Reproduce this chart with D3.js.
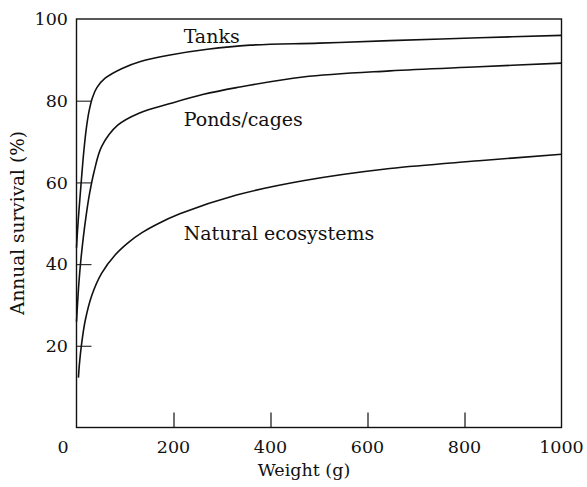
<!DOCTYPE html>
<html>
<head>
<meta charset="utf-8">
<script src="https://cdn.jsdelivr.net/npm/d3@7"></script>
<style>
  body { margin: 0; background: #fff; }
  text { font-family: "DejaVu Serif", serif; fill: #111; }
</style>
</head>
<body>
<div id="chart"></div>
<script>
// DATA
const tanksWeight = [0, 2, 5, 8, 11, 15, 20, 26, 33, 42, 59, 94, 132, 193, 270, 358, 500, 646, 830, 1000];
const tanksSurvival = [44, 48, 53, 57.5, 62, 67.5, 73, 77.5, 80.8, 83.2, 85.5, 87.9, 89.6, 91.2, 92.6, 93.6, 94.1, 94.7, 95.4, 96.0];

const pondsWeight = [0, 2, 5, 9, 14, 20, 27, 36, 52, 85, 130, 193, 260, 330, 467, 646, 830, 1000];
const pondsSurvival = [25.9, 30, 35.5, 41, 46.5, 52, 57.3, 62.5, 68.8, 74, 77, 79.3, 81.5, 83.2, 85.8, 87.3, 88.3, 89.2];

const naturalWeight = [4, 6, 10, 18, 32, 52, 80, 108, 135, 165, 213, 330, 467, 646, 830, 1000];
const naturalSurvival = [12.2, 15.5, 20, 26.2, 32.5, 37.8, 42.3, 45.4, 47.7, 49.7, 52.3, 56.9, 60.4, 63.4, 65.3, 66.9];

const xTicks = [0, 200, 400, 600, 800, 1000];
const yTicks = [20, 40, 60, 80, 100];

// curve labels, placed in data units (weight, survival)
const labelText = ["Tanks", "Ponds/cages", "Natural ecosystems"];
const labelWeight = [221, 221, 221];
const labelSurvival = [94.1, 73.7, 45.9];

// LAYOUT
const width = 587, height = 487;
const margin = { top: 19, right: 25.5, bottom: 59.5, left: 76.5 };

const svg = d3.select("#chart").append("svg")
  .attr("width", width)
  .attr("height", height);

const x = d3.scaleLinear().domain([0, 1000]).range([margin.left, width - margin.right]);
const y = d3.scaleLinear().domain([0, 100]).range([height - margin.bottom, margin.top]);

// axes with inward ticks
const xAxis = svg.append("g")
  .attr("transform", `translate(0,${y(0)})`)
  .call(d3.axisBottom(x).tickValues(xTicks.filter(d => d > 0 && d < 1000)).tickSize(-15).tickFormat(""));
xAxis.select(".domain").remove();
xAxis.selectAll("line").attr("stroke", "#111").attr("stroke-width", 1.2);

const yAxis = svg.append("g")
  .attr("transform", `translate(${x(0)},0)`)
  .call(d3.axisLeft(y).tickValues(yTicks.filter(d => d < 100)).tickSize(-15).tickFormat(""));
yAxis.select(".domain").remove();
yAxis.selectAll("line").attr("stroke", "#333").attr("stroke-width", 1.2);

// tick labels
svg.selectAll("text.xlab")
  .data(xTicks)
  .join("text")
  .attr("class", "xlab")
  .attr("x", d => x(d) + (d === 0 ? -13.5 : 0))
  .attr("y", 453)
  .attr("text-anchor", "middle")
  .attr("font-size", 17.5)
  .text(d => d);

svg.selectAll("text.ylab")
  .data(yTicks)
  .join("text")
  .attr("class", "ylab")
  .attr("x", x(0) - 8.5)
  .attr("y", d => y(d))
  .attr("dy", "0.36em")
  .attr("text-anchor", "end")
  .attr("font-size", 17.5)
  .text(d => d);

// frame
svg.append("rect")
  .attr("x", x(0))
  .attr("y", y(100))
  .attr("width", x(1000) - x(0))
  .attr("height", y(0) - y(100))
  .attr("fill", "none")
  .attr("stroke", "#111")
  .attr("stroke-width", 1.4);

// curves
const line = d3.line()
  .x(d => x(d[0]))
  .y(d => y(d[1]))
  .curve(d3.curveCatmullRom.alpha(0.5));

const series = [
  d3.zip(tanksWeight, tanksSurvival),
  d3.zip(pondsWeight, pondsSurvival),
  d3.zip(naturalWeight, naturalSurvival)
];

svg.selectAll("path.curve")
  .data(series)
  .join("path")
  .attr("class", "curve")
  .attr("fill", "none")
  .attr("stroke", "#111")
  .attr("stroke-width", 1.6)
  .attr("d", line);

// curve labels
svg.selectAll("text.clab")
  .data(d3.zip(labelText, labelWeight, labelSurvival))
  .join("text")
  .attr("class", "clab")
  .attr("x", d => x(d[1]))
  .attr("y", d => y(d[2]))
  .attr("font-size", 19)
  .text(d => d[0]);

// axis titles
svg.append("text")
  .attr("x", 304)
  .attr("y", 476)
  .attr("text-anchor", "middle")
  .attr("font-size", 17.5)
  .text("Weight (g)");

svg.append("text")
  .attr("transform", `translate(24,223) rotate(-90)`)
  .attr("text-anchor", "middle")
  .attr("font-size", 18.5)
  .text("Annual survival (%)");
</script>
</body>
</html>
